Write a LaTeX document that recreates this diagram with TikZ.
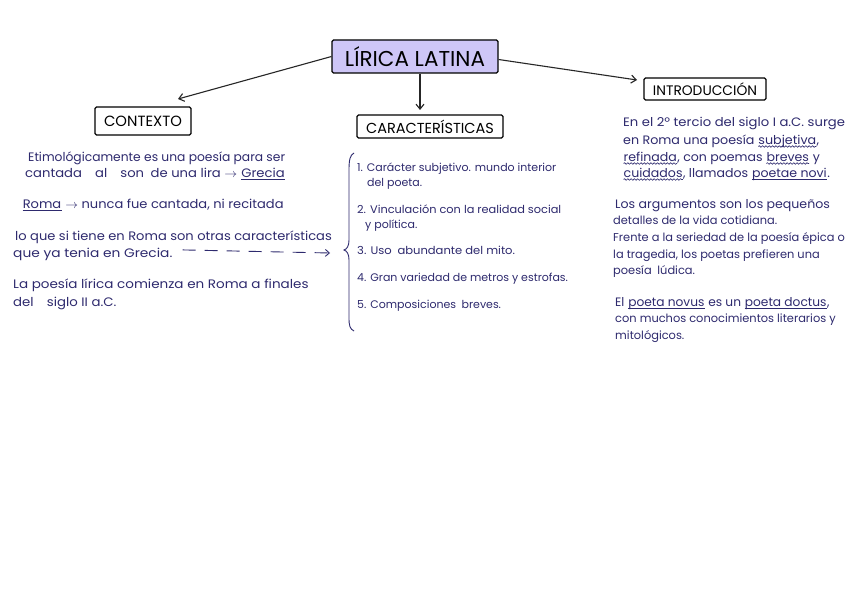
\documentclass[tikz,border=0pt]{standalone}
\usepackage{fontspec}
\usepackage{graphicx}
\setmainfont{Poppins}
\usetikzlibrary{arrows.meta,decorations.pathmorphing}
\definecolor{ink}{HTML}{2E2A6E}
\definecolor{lav}{HTML}{CEC6F7}
\newcommand\ulin[1]{\tikz[baseline=(uw.base)]{\node[inner sep=0pt,text=ink](uw){#1}; \draw[ink,line width=0.7pt] ([yshift=-2.2pt]uw.base west) -- ([yshift=-2.2pt]uw.base east);}}
\newcommand\wvin[1]{\tikz[baseline=(vw.base)]{\node[inner sep=0pt,text=ink](vw){#1}; \draw[ink,line width=0.6pt,decorate,decoration={snake,amplitude=0.8pt,segment length=3.2pt}] ([yshift=-2.5pt]vw.base west) -- ([yshift=-2.5pt]vw.base east);}}
\newcommand\hs[2]{\scalebox{#1}[1]{#2}}
\begin{document}
\begin{tikzpicture}[x=1pt,y=-1pt,
  ctxt/.style={anchor=base west,inner sep=0,text=ink,font=\fontsize{12.3}{14}\selectfont},
  ctar/.style={anchor=base west,inner sep=0,text=ink,font=\fontsize{11}{13}\selectfont},
  cint/.style={anchor=base west,inner sep=0,text=ink,font=\fontsize{12.2}{13}\selectfont},
  cins/.style={cint,font=\fontsize{11.4}{13}\selectfont},
  hdr/.style={draw=black,line width=1.1pt,rounded corners=1.5pt,inner sep=0,fill=white},
  conn/.style={draw=black!85,line width=1.1pt,-{Straight Barb[length=5pt,width=8pt]}}]
\useasboundingbox (0,0) rectangle (848,599);
\fill[white] (0,0) rectangle (848,599);
% headers
\node[hdr,fill=lav,minimum width=166pt,minimum height=33pt,font=\fontsize{21.5}{23}\selectfont] (title) at (415,56.5) {LÍRICA LATINA};
\node[hdr,minimum width=96pt,minimum height=28pt,font=\fontsize{14.8}{16}\selectfont] (ctx) at (143,121) {CONTEXTO};
\node[hdr,minimum width=146pt,minimum height=23pt,font=\fontsize{14.5}{16}\selectfont] (car) at (430,126.5) {CARACTERÍSTICAS};
\node[hdr,minimum width=122pt,minimum height=22pt,font=\fontsize{13.8}{15}\selectfont] (intr) at (705,89) {INTRODUCCIÓN};
% connectors
\coordinate (ctxIn) at (178,99);
\coordinate (carIn) at (420,110);
\coordinate (intIn) at (637,80);
\draw[conn] (title.west) -- (ctxIn);
\draw[conn] ([xshift=5pt]title.south) -- (carIn);
\draw[conn] ([yshift=-3pt]title.east) -- (intIn);
% contexto
\node[ctxt] (c1) at (28,161) {Etimológicamente es una poesía para ser};
\node[ctxt] (c2) at (25,177) {\hs{1.07}{cantada\quad al\quad son\enspace de una lira $\rightarrow$ \ulin{Grecia}}};
\node[ctxt] (c3) at (22,208) {\hs{1.06}{\ulin{Roma} $\rightarrow$ nunca fue cantada, ni recitada}};
\node[ctxt] (c4) at (15,240) {\hs{1.06}{lo que si tiene en Roma son otras características}};
\node[ctxt] (c5) at (13,257) {\hs{1.12}{que ya tenia en Grecia.}};
\coordinate (dashEnd) at (330,253);
\draw[ink,line width=0.9pt,dash pattern=on 13pt off 9pt,-{Straight Barb[length=4pt,width=7pt]}] ([xshift=10pt,yshift=4pt]c5.east) -- (dashEnd);
\node[ctxt] (c6) at (13,288) {\hs{1.1}{La poesía lírica comienza en Roma a finales}};
\node[ctxt] (c7) at (13,306) {\hs{1.08}{del\quad siglo II a.C.}};
% caracteristicas
\draw[ink,line width=0.9pt] (354,153) .. controls (350,155) and (349,160) .. (349,170) -- (349,240) .. controls (349,246) and (347,249) .. (344,250) .. controls (347,251) and (349,254) .. (349,260) -- (349,318) .. controls (349,326) and (350,329) .. (354,331);
\node[ctar] (k1) at (357,171) {1. Carácter subjetivo. mundo interior};
\node[ctar] (k1b) at (367,186) {del poeta.};
\node[ctar] (k2) at (357,213) {\hs{1.03}{2. Vinculación con la realidad social}};
\node[ctar] (k2b) at (365,228) {y política.};
\node[ctar] (k3) at (357,254) {\hs{1.05}{3. Uso\enspace abundante del mito.}};
\node[ctar] (k4) at (357,281) {4. Gran variedad de metros y estrofas.};
\node[ctar] (k5) at (357,308) {5. Composiciones\enspace breves.};
% introduccion
\node[cint] (i1) at (623,127) {\hs{1.08}{En el 2º tercio del siglo I a.C. surge}};
\node[cint] (i2) at (623,144) {\hs{1.04}{en Roma una poesía \wvin{subjetiva},}};
\node[cint] (i3) at (623,161) {\hs{1.03}{\wvin{refinada}, con poemas \wvin{breves} y}};
\node[cint] (i4) at (623,177) {\hs{1.03}{\wvin{cuidados}, llamados \ulin{poetae novi}.}};
\node[cint] (i5) at (615,208) {\hs{1.03}{Los argumentos son los pequeños}};
\node[cins] (i6) at (613,224) {detalles de la vida cotidiana.};
\node[cins] (i7) at (613,241) {Frente a la seriedad de la poesía épica o};
\node[cins] (i8) at (613,258) {la tragedia, los poetas prefieren una};
\node[cins] (i9) at (613,274) {poesía\enspace lúdica.};
\node[cint] (i10) at (615,306) {El \ulin{poeta novus} es un \ulin{poeta doctus},};
\node[cins] (i11) at (615,322) {con muchos conocimientos literarios y};
\node[cins] (i12) at (615,339) {mitológicos.};
\end{tikzpicture}
\end{document}
